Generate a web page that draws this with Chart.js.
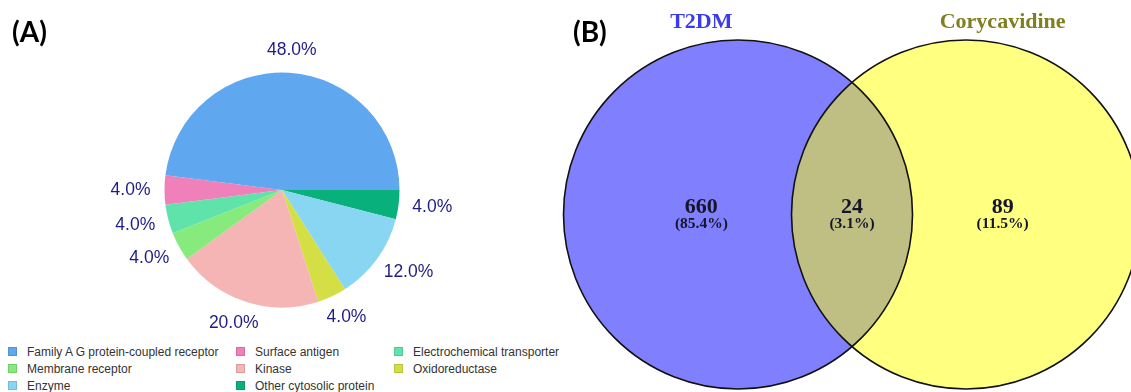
<!DOCTYPE html>
<html>
<head>
<meta charset="utf-8">
<script src="https://cdn.jsdelivr.net/npm/chart.js@4.4.1/dist/chart.umd.min.js"></script>
<style>
  html, body { margin: 0; padding: 0; background: #fff; }
  #wrap { position: relative; width: 1131px; height: 392px; overflow: hidden; background: #fff; }
  canvas { position: absolute; display: block; }
  .tag { position: absolute; font-family: Lato, "Open Sans", sans-serif; font-weight: 700; font-size: 28px; color: #000; line-height: 1; z-index: 5; }
  #legend { position: absolute; left: 0; top: 0; font-family: "Liberation Sans", Arial, sans-serif; font-size: 12px; color: #333; }
  .li { position: absolute; white-space: nowrap; line-height: 14px; height: 14px; }
  .sw { position: absolute; left: 0; top: 2px; width: 9px; height: 9px; box-sizing: border-box; border: 1px solid rgba(0,0,0,0.12); }
  .lt { position: absolute; top: 0; }
</style>
</head>
<body>
<div id="wrap">
  <div class="tag" style="left:12px; top:17px;">(A)</div>
  <canvas id="pie" width="560" height="330" style="left:0; top:0;"></canvas>
  <div id="legend"></div>
  <canvas id="venn" width="571" height="392" style="left:560px; top:0;"></canvas>
  <div class="tag" style="left:573px; top:17px;">(B)</div>
</div>
<script>
// ---- Panel A: target classes of the predicted targets ----
const categories = [
  'Family A G protein-coupled receptor',
  'Surface antigen',
  'Electrochemical transporter',
  'Membrane receptor',
  'Kinase',
  'Oxidoreductase',
  'Enzyme',
  'Other cytosolic protein'
];
const targetCounts = [12, 1, 1, 1, 5, 1, 3, 1];
const classColors = ['#5fa8ef', '#ef80b9', '#5fe3ab', '#86ea7c', '#f4b5b4', '#d3df45', '#88d6f1', '#08b17b'];

// ---- Panel B: overlap of T2DM and Corycavidine targets ----
const vennSets = ['T2DM', 'Corycavidine'];
const vennRegions = ['T2DM only', 'Shared', 'Corycavidine only'];
const vennCounts = [660, 24, 89];

// Pie slices run anticlockwise from 3 o'clock, so feed Chart.js the reversed order
const order = categories.map((_, i) => categories.length - 1 - i);
const total = targetCounts.reduce((a, b) => a + b, 0);

const pieLabels = {
  id: 'pieLabels',
  afterDatasetsDraw(chart) {
    const ctx = chart.ctx;
    const meta = chart.getDatasetMeta(0);
    const values = chart.data.datasets[0].data;
    ctx.save();
    ctx.font = '17.5px "Liberation Sans", Arial, sans-serif';
    ctx.fillStyle = '#1d1d88';
    ctx.textAlign = 'center';
    ctx.textBaseline = 'middle';
    meta.data.forEach((arc, i) => {
      const p = arc.getProps(['x', 'y', 'startAngle', 'endAngle', 'outerRadius'], true);
      const mid = (p.startAngle + p.endAngle) / 2;
      const c = Math.cos(mid), s = Math.sin(mid);
      const txt = (values[i] / total * 100).toFixed(1) + '%';
      const w = ctx.measureText(txt).width;
      const r = p.outerRadius + 14;
      const tx = p.x + r * c + (w / 2) * c;
      const ty = p.y + r * s + 9 * s;
      ctx.fillText(txt, tx, ty);
    });
    ctx.restore();
  }
};

new Chart(document.getElementById('pie'), {
  type: 'pie',
  data: {
    labels: order.map(i => categories[i]),
    datasets: [{
      data: order.map(i => targetCounts[i]),
      backgroundColor: order.map(i => classColors[i]),
      borderWidth: 0
    }]
  },
  options: {
    responsive: false,
    animation: false,
    rotation: 90,
    layout: { padding: { left: 164.5, right: 160.5, top: 72.5, bottom: 22.5 } },
    plugins: { legend: { display: false }, tooltip: { enabled: false } }
  },
  plugins: [pieLabels]
});

// Legend: three columns, filled row by row
const legend = document.getElementById('legend');
const colX = [8, 236, 394];
const rowY = [345, 362, 379];
categories.forEach((name, i) => {
  const col = i % 3, row = Math.floor(i / 3);
  const item = document.createElement('div');
  item.className = 'li';
  item.style.left = colX[col] + 'px';
  item.style.top = rowY[row] + 'px';
  const sw = document.createElement('div');
  sw.className = 'sw';
  sw.style.background = classColors[i];
  const t = document.createElement('div');
  t.className = 'lt';
  t.style.left = '19px';
  t.textContent = name;
  item.appendChild(sw);
  item.appendChild(t);
  legend.appendChild(item);
});

// ---- Venn diagram drawn on a scatter chart, unit = circle radius ----
const setFill = ['#8080ff', '#ffff80'];
const sharedFill = '#bfbf84';
const titleColor = ['#3a3af0', '#7f7f1f'];
const centers = [0, 1.3066];
const sumAll = vennCounts.reduce((a, b) => a + b, 0);

const vennPlugin = {
  id: 'vennOverlay',
  afterDatasetsDraw(chart) {
    const ctx = chart.ctx;
    const xs = chart.scales.x, ys = chart.scales.y;
    const pts = chart.getDatasetMeta(0).data;
    const a = pts[0], b = pts[1];
    const ra = a.options.radius, rb = b.options.radius;
    ctx.save();
    // shared region
    ctx.beginPath();
    ctx.arc(a.x, a.y, ra, 0, Math.PI * 2);
    ctx.clip();
    ctx.beginPath();
    ctx.arc(b.x, b.y, rb, 0, Math.PI * 2);
    ctx.fillStyle = sharedFill;
    ctx.fill();
    ctx.restore();
    // outlines
    ctx.save();
    ctx.lineWidth = 1.6;
    ctx.strokeStyle = '#111';
    [[a, ra], [b, rb]].forEach(([p, r]) => {
      ctx.beginPath();
      ctx.arc(p.x, p.y, r, 0, Math.PI * 2);
      ctx.stroke();
    });
    // set names
    ctx.textAlign = 'center';
    ctx.textBaseline = 'alphabetic';
    ctx.font = 'bold 22px "Liberation Serif", "Times New Roman", serif';
    const titleX = [centers[0] - 0.21, centers[1] + 0.21];
    vennSets.forEach((name, i) => {
      ctx.fillStyle = titleColor[i];
      ctx.fillText(name, xs.getPixelForValue(titleX[i]), 28);
    });
    // region counts
    const regionX = [centers[0] - 0.21, (centers[0] + centers[1]) / 2, centers[1] + 0.21];
    ctx.fillStyle = '#14142a';
    vennCounts.forEach((n, i) => {
      const px = xs.getPixelForValue(regionX[i]);
      const py = ys.getPixelForValue(0);
      ctx.font = 'bold 22px "Liberation Serif", "Times New Roman", serif';
      ctx.fillText(String(n), px, py - 1);
      ctx.font = 'bold 15.5px "Liberation Serif", "Times New Roman", serif';
      ctx.fillText('(' + (n / sumAll * 100).toFixed(1) + '%)', px, py + 14);
    });
    ctx.restore();
  }
};

const unitRadius = (c) => {
  const s = c.chart.scales.x;
  return Math.abs(s.getPixelForValue(1) - s.getPixelForValue(0));
};

new Chart(document.getElementById('venn'), {
  type: 'scatter',
  data: {
    datasets: [{
      label: vennSets.join(' / '),
      data: centers.map(cx => ({ x: cx, y: 0 })),
      pointRadius: unitRadius,
      pointHoverRadius: unitRadius,
      backgroundColor: setFill,
      borderColor: '#111',
      borderWidth: 0,
      clip: false
    }]
  },
  options: {
    responsive: false,
    animation: false,
    layout: { padding: 0 },
    scales: {
      x: { type: 'linear', display: false, min: -1.0201, max: 2.2521 },
      y: { type: 'linear', display: false, min: -1.0172, max: 1.2292 }
    },
    plugins: { legend: { display: false }, tooltip: { enabled: false } }
  },
  plugins: [vennPlugin]
});
</script>
</body>
</html>
